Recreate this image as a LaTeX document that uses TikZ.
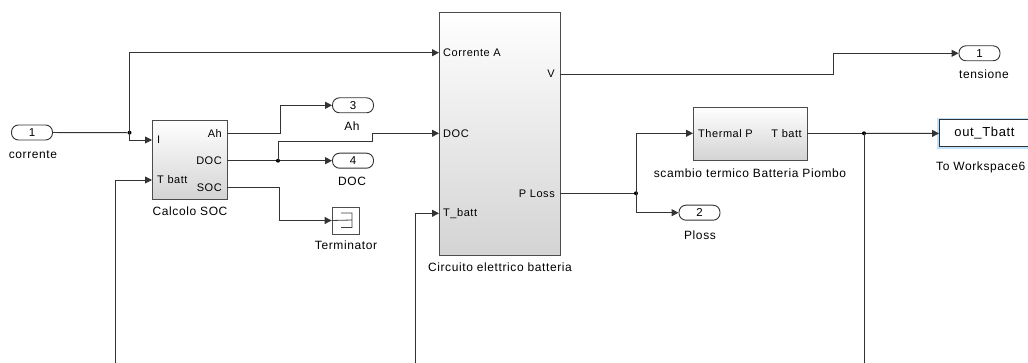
\documentclass[tikz,border=0pt]{standalone}
\usepackage{fontspec}
\setmainfont{Liberation Sans}[LetterSpace=5]
\usetikzlibrary{arrows.meta,shadows}
\tikzset{
  blk/.style={draw=black!70, line width=0.8pt, top color=white, bottom color=black!17, inner sep=0pt, drop shadow={shadow xshift=1.2pt, shadow yshift=-1.2pt, opacity=0.3}},
  io/.style={draw=black!80, line width=0.9pt, fill=white, rounded corners=7pt, minimum width=41pt, minimum height=15pt, inner sep=0pt, font=\fontsize{11.5}{12}\selectfont},
  lbl/.style={font=\fontsize{12}{14}\selectfont, inner sep=0pt},
  plbl/.style={font=\fontsize{11}{13}\selectfont, inner sep=0pt},
  wire/.style={line width=0.9pt, draw=black!80},
  sig/.style={wire, -{Triangle[length=7pt,width=7pt]}},
  junc/.style={circle, fill=black, inner sep=0pt, minimum size=4pt},
}
\begin{document}
\begin{tikzpicture}[x=1pt, y=-1pt]
\useasboundingbox (0,0) rectangle (1028,363);
\node[io] (in1) at (32,132.5) {1}; \node[lbl] (in1l) at (33,155) {corrente};
\node[blk, minimum width=75pt, minimum height=79pt] (soc) at (189.5,159.5) {};
\node[lbl] (socl) at (190,211) {Calcolo SOC};
\coordinate (socI) at (152,140); \coordinate (socT) at (152,180);
\coordinate (socAh) at (227,133.3); \coordinate (socDOC) at (227,160.7); \coordinate (socSOC) at (227,187.3);
\node[plbl, anchor=west] (socIl) at (157,140) {I}; \node[plbl, anchor=west] (socTl) at (157,180) {T batt};
\node[plbl, anchor=east] (socAhl) at (222,133.3) {Ah}; \node[plbl, anchor=east] (socDOCl) at (222,160.7) {DOC}; \node[plbl, anchor=east] (socSOCl) at (222,187.3) {SOC};
\node[io] (out3) at (353,105.3) {3}; \node[lbl] (out3l) at (352,126) {Ah};
\node[io] (out4) at (353,160.7) {4}; \node[lbl] (out4l) at (352,181) {DOC};
\node[blk, minimum width=27pt, minimum height=27pt, bottom color=white] (term) at (345.5,220.5) {};
\node[lbl] (terml) at (346,245) {Terminator};
\draw[line width=0.8pt, black!75] (term.west) -- (352,220) (341,213) -- (352,213) -- (352,227.5) -- (341,227.5);
\node[blk, minimum width=121pt, minimum height=243pt] (circ) at (499.5,133.5) {};
\node[lbl] (circl) at (500,267) {Circuito elettrico batteria};
\coordinate (circA) at (439,52.7); \coordinate (circDOC) at (439,133.3); \coordinate (circT) at (439,213.3);
\coordinate (circV) at (560,74); \coordinate (circP) at (560,193.3);
\node[plbl, anchor=west] (circAl) at (443,52.7) {Corrente A}; \node[plbl, anchor=west] (circDOCl) at (443,133.3) {DOC}; \node[plbl, anchor=west] (circTl) at (443,213.3) {T\_batt};
\node[plbl, anchor=east] (circVl) at (555,74) {V}; \node[plbl, anchor=east] (circPl) at (555,193.3) {P Loss};
\node[io] (out1) at (979.5,53.3) {1}; \node[lbl] (out1l) at (984,74) {tensione};
\node[io] (out2) at (699.5,212.7) {2}; \node[lbl] (out2l) at (700,235) {Ploss};
\node[blk, minimum width=114pt, minimum height=53pt] (heat) at (750,133.5) {};
\node[lbl] (heatl) at (750,173) {scambio termico Batteria Piombo};
\coordinate (heatP) at (693,133.3); \coordinate (heatT) at (807,133.3);
\node[plbl, anchor=west] (heatPl) at (698,133.3) {Thermal P}; \node[plbl, anchor=east] (heatTl) at (802,133.3) {T batt};
\node[draw=black!80, line width=1pt, fill=white, minimum width=90pt, minimum height=27pt, inner sep=0pt, font=\fontsize{13}{14}\selectfont, preaction={draw=blue!45!cyan!25, line width=4.5pt}] (ws) at (984.5,133.5) {out\_Tbatt};
\node[lbl, anchor=west] (wsl) at (936,167) {To Workspace6};
\node[junc] (j1) at (129.5,132.7) {}; \node[junc] (j2) at (278,160.7) {};
\node[junc] (j3) at (636,193.3) {}; \node[junc] (j4) at (864,133.3) {};
\coordinate (fb1) at (115,363); \coordinate (fb2) at (415,363); \coordinate (fb3) at (864,363);
\draw[wire] (in1) -- (j1); \draw[sig] (j1.center) |- (socI); \draw[sig] (j1.center) |- (circA);
\draw[sig] (socAh) -- ++(53,0) |- (out3); \draw[wire] (socDOC) -- (j2); \draw[sig] (j2) -- (out4);
\draw[sig] (j2.center) -- ++(0,-19) -- ++(94.3,0) |- (circDOC);
\draw[sig] (socSOC) -- ++(52,0) |- (term);
\draw[sig] (fb1) |- (socT); \draw[sig] (fb2) |- (circT);
\draw[sig] (circV) -- ++(273,0) |- (out1);
\draw[wire] (circP) -- (j3); \draw[sig] (j3.center) |- (heatP); \draw[sig] (j3.center) |- (out2);
\draw[wire] (heatT) -- (j4); \draw[sig] (j4) -- (ws); \draw[wire] (j4.center) -- (fb3);
\end{tikzpicture}
\end{document}
